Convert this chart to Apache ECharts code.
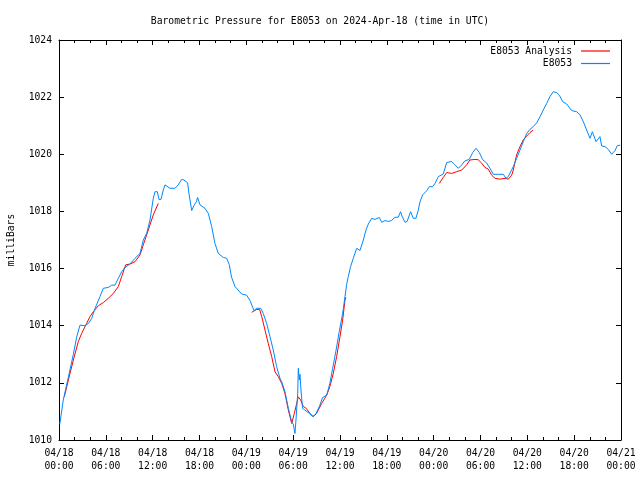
<!DOCTYPE html>
<html>
<head>
<meta charset="utf-8">
<script src="https://cdn.jsdelivr.net/npm/echarts@6/dist/echarts.min.js"></script>
<style>html,body{margin:0;padding:0;background:#fff;}#c{width:640px;height:480px;}</style>
</head>
<body>
<div id="c"></div>
<script>
// Hours since 2024-04-18 00:00 UTC
var xTickLabels = ['04/18\n00:00','04/18\n06:00','04/18\n12:00','04/18\n18:00','04/19\n00:00','04/19\n06:00','04/19\n12:00','04/19\n18:00','04/20\n00:00','04/20\n06:00','04/20\n12:00','04/20\n18:00','04/21\n00:00'];
var yTicks = [1010, 1012, 1014, 1016, 1018, 1020, 1022, 1024];

var blueHours = [0.1,0.55,1.2,1.84,2.26,2.69,3.33,3.76,4.18,4.61,5.25,5.68,5.9,6.32,6.75,7.17,7.6,8.03,8.46,9.1,9.74,10.38,10.8,11.23,11.66,12.08,12.3,12.6,12.81,13.07,13.36,13.58,14.22,14.86,15.28,15.72,16.0,16.48,16.65,17.0,17.33,17.6,17.76,18.06,18.7,19.13,19.56,19.98,20.41,21.05,21.48,21.8,22.1,22.55,23.4,24.04,24.47,24.98,25.33,25.84,26.17,26.6,27.03,27.45,27.88,28.31,28.53,28.95,29.38,29.81,30.02,30.23,30.36,30.58,30.66,30.79,30.87,31.0,31.2,31.5,31.67,32.07,32.5,32.9,33.35,33.78,34.3,34.7,35.06,35.5,35.9,36.34,36.64,36.86,37.06,37.36,37.7,38.14,38.56,38.99,39.33,39.63,40.06,40.48,41.03,41.34,41.77,42.19,42.6,43.04,43.47,43.76,44.0,44.33,44.6,45.05,45.39,45.73,46.03,46.25,46.59,47.1,47.45,47.83,48.17,48.6,49.23,49.67,50.3,50.73,50.95,51.16,51.6,52.0,52.56,53.0,53.42,53.85,54.28,54.8,55.21,55.64,56.28,56.92,57.26,57.56,57.8,58.2,58.63,59.06,59.48,59.92,60.34,60.76,61.2,61.62,62.04,62.48,62.9,63.32,63.76,64.1,64.53,65.04,65.68,66.32,66.75,67.17,67.6,68.03,68.33,68.8,69.3,69.52,69.95,70.38,70.8,71.23,71.52,71.9];
var bluePressure = [1010.55,1011.4,1012.2,1013.0,1013.6,1014.02,1014.0,1014.08,1014.25,1014.6,1015.02,1015.31,1015.25,1015.34,1015.42,1015.42,1015.66,1015.89,1016.04,1016.16,1016.36,1016.53,1017.0,1017.23,1017.7,1018.46,1018.69,1018.69,1018.42,1018.42,1018.75,1018.93,1018.81,1018.81,1018.93,1019.12,1019.1,1019.0,1018.63,1018.03,1018.23,1018.34,1018.49,1018.23,1018.11,1017.93,1017.47,1016.88,1016.53,1016.39,1016.36,1016.15,1015.7,1015.37,1015.11,1015.07,1014.88,1014.53,1014.61,1014.61,1014.43,1014.08,1013.62,1013.15,1012.57,1012.16,1012.04,1011.69,1011.11,1010.64,1010.55,1010.23,1010.7,1011.63,1012.51,1012.1,1012.3,1011.75,1011.11,1011.05,1011.11,1010.93,1010.82,1010.91,1011.17,1011.49,1011.57,1011.98,1012.51,1013.15,1013.79,1014.43,1015.02,1015.45,1015.72,1016.07,1016.36,1016.71,1016.63,1017.0,1017.35,1017.56,1017.76,1017.72,1017.79,1017.62,1017.68,1017.65,1017.68,1017.79,1017.8,1017.99,1017.8,1017.62,1017.65,1017.99,1017.76,1017.76,1018.05,1018.34,1018.58,1018.72,1018.87,1018.86,1018.98,1019.22,1019.31,1019.71,1019.75,1019.63,1019.68,1019.51,1019.63,1019.77,1019.82,1020.06,1020.21,1020.06,1019.81,1019.69,1019.51,1019.3,1019.3,1019.3,1019.16,1019.22,1019.25,1019.57,1019.86,1020.15,1020.44,1020.73,1020.87,1020.97,1021.1,1021.31,1021.55,1021.78,1022.02,1022.19,1022.16,1022.07,1021.84,1021.76,1021.53,1021.49,1021.38,1021.14,1020.85,1020.56,1020.79,1020.44,1020.62,1020.29,1020.27,1020.17,1020.0,1020.13,1020.3,1020.32];

// Analysis: three segments separated by null gaps
var redHours = [0.68,1.2,1.84,2.47,2.9,3.54,3.97,4.4,5.04,5.68,6.32,6.96,7.6,8.03,8.54,9.1,9.74,10.38,10.8,11.44,12.08,12.72,
  null,
  24.68,25.33,25.7,25.97,26.39,26.81,27.25,27.67,28.09,28.53,28.95,29.38,29.81,30.15,30.45,30.66,30.96,31.3,31.67,32.15,32.58,33.0,33.65,34.3,34.7,35.14,35.57,36.0,36.34,36.64,36.75,
  null,
  48.72,49.23,49.67,50.3,50.94,51.6,52.22,52.65,53.29,53.7,54.15,54.57,55.0,55.43,55.86,56.5,57.14,57.56,57.99,58.2,58.63,59.06,59.48,59.92,60.34,60.76];
var redPressure = [1011.51,1012.1,1012.8,1013.44,1013.73,1014.08,1014.32,1014.49,1014.7,1014.81,1014.96,1015.13,1015.37,1015.72,1016.13,1016.16,1016.24,1016.48,1016.83,1017.35,1017.88,1018.28,
  null,
  1014.47,1014.57,1014.57,1014.32,1013.85,1013.38,1012.92,1012.39,1012.22,1011.98,1011.63,1011.05,1010.58,1010.93,1011.28,1011.51,1011.4,1011.17,1011.11,1010.93,1010.82,1010.93,1011.28,1011.57,1011.87,1012.33,1012.92,1013.62,1014.2,1014.9,1015.0,
  null,
  1018.98,1019.19,1019.36,1019.33,1019.39,1019.45,1019.63,1019.8,1019.82,1019.81,1019.69,1019.54,1019.48,1019.27,1019.16,1019.13,1019.16,1019.13,1019.27,1019.45,1019.98,1020.27,1020.5,1020.64,1020.76,1020.85];

function pairs(xs, ys) {
  var out = [];
  for (var i = 0; i < xs.length; i++) {
    out.push(xs[i] === null ? [null, null] : [xs[i], ys[i]]);
  }
  return out;
}

var FONT = 'DejaVu Sans Mono';
var FS = 9.7;
var BLUE = '#0088ff';
var RED = '#ff0000';

function xAx(pos, showLabel) {
  return {
    type: 'value', position: pos, min: 0, max: 72, interval: 6,
    axisLine: { show: true, onZero: false, lineStyle: { color: '#000', width: 1 } },
    axisTick: { show: true, inside: true, length: 5, lineStyle: { color: '#000' } },
    minorTick: { show: true, splitNumber: 3, length: 3, lineStyle: { color: '#000' } },
    splitLine: { show: false },
    axisLabel: {
      show: showLabel, margin: 7, color: '#000', fontFamily: FONT, fontSize: FS, lineHeight: 13,
      formatter: function (v) { return xTickLabels[Math.round(v / 6)]; }
    }
  };
}
function yAx(pos, showLabel) {
  var a = {
    type: 'value', position: pos, min: yTicks[0], max: yTicks[yTicks.length - 1], interval: 2,
    axisLine: { show: true, onZero: false, lineStyle: { color: '#000', width: 1 } },
    axisTick: { show: true, inside: true, length: 5, lineStyle: { color: '#000' } },
    splitLine: { show: false },
    axisLabel: { show: showLabel, margin: 7, color: '#000', fontFamily: FONT, fontSize: FS,
      formatter: function (v) { return String(v); } }
  };
  if (showLabel) {
    a.name = 'milliBars';
    a.nameLocation = 'middle';
    a.nameGap = 43;
    a.nameRotate = 90;
    a.nameTextStyle = { color: '#000', fontFamily: FONT, fontSize: FS };
  }
  return a;
}

function legendFor(name, top) {
  return {
    data: [{ name: name, icon: 'rect' }], right: 30, top: top, align: 'right', padding: 0,
    itemWidth: 29, itemHeight: 1.2, selectedMode: false,
    textStyle: { color: '#000', fontFamily: FONT, fontSize: FS, padding: [0, 4, 0, 0] }
  };
}

var chart = echarts.init(document.getElementById('c'), null, { renderer: 'canvas' });
chart.setOption({
  backgroundColor: '#fff',
  animation: false,
  title: {
    text: 'Barometric Pressure for E8053 on 2024-Apr-18 (time in UTC)',
    left: 'center', top: 11,
    textStyle: { color: '#000', fontFamily: FONT, fontSize: FS, fontWeight: 'normal' }
  },
  legend: [legendFor('E8053 Analysis', 46), legendFor('E8053', 58.5)],
  grid: { left: 59, right: 19, top: 40, bottom: 40, containLabel: false, outerBoundsMode: 'none' },
  xAxis: [xAx('bottom', true), xAx('top', false)],
  yAxis: [yAx('left', true), yAx('right', false)],
  series: [
    { name: 'E8053 Analysis', type: 'line', xAxisIndex: 0, yAxisIndex: 0, symbol: 'none', showSymbol: false,
      connectNulls: false, color: RED, lineStyle: { color: RED, width: 1 }, data: pairs(redHours, redPressure) },
    { name: 'E8053', type: 'line', xAxisIndex: 0, yAxisIndex: 0, symbol: 'none', showSymbol: false,
      color: BLUE, lineStyle: { color: BLUE, width: 1 }, data: pairs(blueHours, bluePressure) }
  ]
});
</script>
</body>
</html>
